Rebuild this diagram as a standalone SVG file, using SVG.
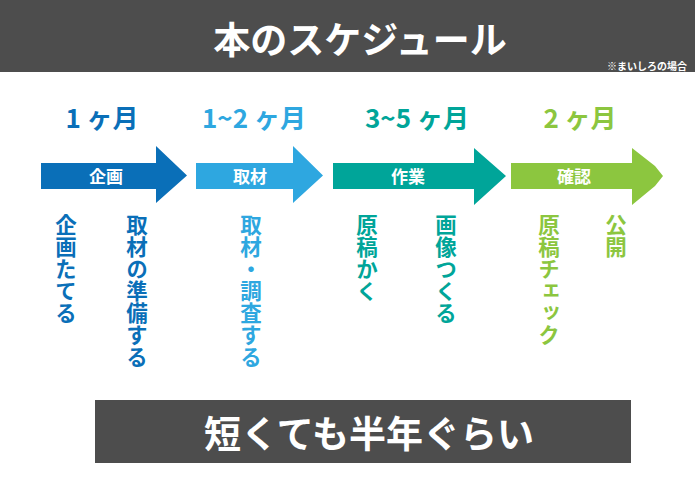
<svg xmlns="http://www.w3.org/2000/svg" width="695" height="486" viewBox="0 0 695 486">
<style>
text{font-family:"Noto Sans CJK JP","Noto Sans",sans-serif;font-weight:700}
.w{fill:#ffffff}
.c1{fill:#0a6fb8}.c2{fill:#2ea7e0}.c3{fill:#00a599}.c4{fill:#8cc63f}
.dur{font-size:26px;text-anchor:middle}
.lbl{font-size:17px;text-anchor:middle;dominant-baseline:central;fill:#fff}
.v{font-size:21.5px;writing-mode:vertical-rl;text-orientation:upright;letter-spacing:0.5px}
</style>
<rect x="0" y="0" width="695" height="72" fill="#4d4d4d"/>
<g id="title"><text class="w" x="360" y="38" font-size="37" text-anchor="middle" dominant-baseline="central">本のスケジュール</text></g>
<g id="note"><text class="w" x="687" y="65" font-size="10" text-anchor="end" dominant-baseline="central">※まいしろの場合</text></g>

<g id="durations">
<text class="dur c1" x="102" y="128">1 ヶ月</text>
<text class="dur c2" x="254" y="128">1~2 ヶ月</text>
<text class="dur c3" x="417" y="128">3~5 ヶ月</text>
<text class="dur c4" x="580" y="128">2 ヶ月</text>
</g>

<g id="connectors">
<g id="arrow-kikaku"><polygon class="c1" points="41,163 156,163 156,146 187,175.5 156,203 156,189 41,189"/><text class="lbl" x="106" y="175.5">企画</text></g>
<g id="arrow-shuzai"><polygon class="c2" points="196,163 293,163 293,146 323,175.5 293,203 293,189 196,189"/><text class="lbl" x="250" y="175.5">取材</text></g>
<g id="arrow-sagyo"><polygon class="c3" points="333,163 474,163 474,148 506,176 474,205 474,189 333,189"/><text class="lbl" x="408" y="175.5">作業</text></g>
<g id="arrow-kakunin"><polygon class="c4" points="511,163 632,163 632,148 655,166 663,176 655,186 632,205 632,189 511,189"/><text class="lbl" x="574" y="175.5">確認</text></g>
</g>

<g id="tasks">
<g id="t1"><text class="v c1" x="66" y="214">企画たてる</text></g>
<g id="t2"><text class="v c1" x="137" y="214">取材の準備する</text></g>
<g id="t3"><text class="v c2" x="251" y="214">取材・調査する</text></g>
<g id="t4"><text class="v c3" x="367" y="214">原稿かく</text></g>
<g id="t5"><text class="v c3" x="446" y="214">画像つくる</text></g>
<g id="t6"><text class="v c4" x="549" y="214">原稿チェック</text></g>
<g id="t7"><text class="v c4" x="616" y="214">公開</text></g>
</g>

<g id="summary">
<rect x="95" y="400" width="536" height="63" fill="#4d4d4d"/>
<text class="w" x="369" y="431.5" font-size="37" text-anchor="middle" dominant-baseline="central">短くても半年ぐらい</text>
</g>
</svg>
